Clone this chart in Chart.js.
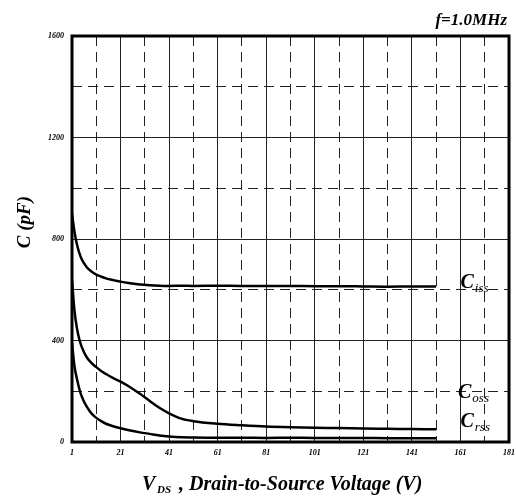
<!DOCTYPE html>
<html>
<head>
<meta charset="utf-8">
<script src="https://cdn.jsdelivr.net/npm/chart.js@4.4.1/dist/chart.umd.min.js"></script>
<style>
  body { margin: 0; background: #fff; }
  #wrap { width: 516px; height: 500px; position: relative; }
</style>
</head>
<body>
<div id="wrap"><canvas id="capChart"></canvas></div>
<script>
// Capacitance vs drain-source voltage
const vds  = [1, 2, 3, 4, 5, 7, 9, 11, 13, 15, 18, 21, 25, 29, 33, 37, 41, 46, 51, 61, 71, 81, 91, 101, 111, 121, 131, 141, 151];
const ciss = [900, 830, 780, 745, 720, 690, 672, 660, 652, 645, 638, 632, 626, 621, 618, 616, 615, 616, 615, 616, 615, 615, 615, 614, 614, 613, 612, 613, 613];
const coss = [640, 520, 450, 405, 375, 335, 312, 295, 280, 268, 252, 238, 216, 190, 162, 135, 113, 92, 82, 72, 66, 61, 58, 56, 55, 53, 52, 51, 50];
const crss = [390, 300, 250, 210, 180, 140, 113, 95, 82, 72, 62, 54, 45, 38, 32, 26, 22, 19, 18, 17, 17, 16, 17, 16, 16, 16, 15, 15, 15];

const xTicks = [1, 11, 21, 31, 41, 51, 61, 71, 81, 91, 101, 111, 121, 131, 141, 151, 161, 171, 181];
const yTicks = [0, 200, 400, 600, 800, 1000, 1200, 1400, 1600];

// label text and where it sits (data coords)
const seriesLabels = [
    { sub: 'iss', x: 161, y: 607 },
    { sub: 'oss', x: 160, y: 173 },
    { sub: 'rss', x: 161, y: 59 }
];

const serif = '"Liberation Serif", "Times New Roman", serif';

function pts(ys) {
    return vds.map((v, i) => ({ x: v, y: ys[i] }));
}

function curve(ys) {
    return {
        data: pts(ys),
        borderColor: '#000',
        borderWidth: 2.5,
        pointRadius: 0,
        fill: false,
        cubicInterpolationMode: 'monotone'
    };
}

// frame, title texts and curve labels
const decorations = {
    id: 'decorations',
    afterDraw(chart) {
        const { ctx, chartArea: a, scales } = chart;
        ctx.save();
        ctx.strokeStyle = '#000';
        ctx.lineWidth = 3;
        ctx.strokeRect(a.left, a.top, a.right - a.left, a.bottom - a.top);

        ctx.fillStyle = '#000';
        ctx.textBaseline = 'alphabetic';

        // frequency note
        ctx.font = 'italic bold 17px ' + serif;
        ctx.textAlign = 'right';
        ctx.fillText('f=1.0MHz', 507, 25);

        // y title
        ctx.save();
        ctx.translate(30, 222);
        ctx.rotate(-Math.PI / 2);
        ctx.textAlign = 'center';
        ctx.font = 'italic bold 19px ' + serif;
        ctx.fillText('C (pF)', 0, 0);
        ctx.restore();

        // x title with subscript
        ctx.textAlign = 'left';
        ctx.font = 'italic bold 20px ' + serif;
        ctx.fillText('V', 142, 490);
        ctx.font = 'italic bold 11px ' + serif;
        ctx.fillText('DS', 157, 493);
        ctx.font = 'italic bold 20px ' + serif;
        ctx.fillText(', Drain-to-Source Voltage (V)', 179, 490);

        // curve labels
        seriesLabels.forEach(l => {
            const px = scales.x.getPixelForValue(l.x);
            const py = scales.y.getPixelForValue(l.y);
            ctx.font = 'italic bold 20px ' + serif;
            ctx.fillText('C', px, py);
            const w = ctx.measureText('C').width;
            ctx.font = 'italic 13px ' + serif;
            ctx.fillText(l.sub, px + w + 1, py + 4);
        });
        ctx.restore();
    }
};

new Chart(document.getElementById('capChart'), {
    type: 'line',
    data: {
        datasets: [curve(ciss), curve(coss), curve(crss)]
    },
    options: {
        responsive: true,
        maintainAspectRatio: false,
        animation: false,
        layout: { padding: { top: 36, right: 7, left: 0, bottom: 0 } },
        plugins: {
            legend: { display: false },
            tooltip: { enabled: false }
        },
        scales: {
            x: {
                type: 'linear',
                min: 1,
                max: 181,
                afterBuildTicks: s => { s.ticks = xTicks.map(v => ({ value: v })); },
                afterFit: s => { s.height = 58; s.paddingLeft = 0; s.paddingRight = 0; },
                ticks: {
                    autoSkip: false,
                    maxRotation: 0,
                    padding: 6,
                    color: '#000',
                    font: { family: serif, size: 8, style: 'italic', weight: 'bold' },
                    callback: v => ((v - 1) % 20 === 0 ? String(v) : '')
                },
                grid: {
                    drawTicks: false,
                    color: '#222',
                    lineWidth: 1
                },
                border: {
                    display: false,
                    dash: c => (c.tick && (c.tick.value - 1) % 20 !== 0 ? [10, 6] : [])
                }
            },
            y: {
                min: 0,
                max: 1600,
                afterBuildTicks: s => { s.ticks = yTicks.map(v => ({ value: v })); },
                afterFit: s => { s.width = 72; s.paddingTop = 0; s.paddingBottom = 0; },
                ticks: {
                    autoSkip: false,
                    padding: 8,
                    color: '#000',
                    font: { family: serif, size: 8, style: 'italic', weight: 'bold' },
                    callback: v => (v % 400 === 0 ? String(v) : '')
                },
                grid: {
                    drawTicks: false,
                    color: '#222',
                    lineWidth: 1
                },
                border: {
                    display: false,
                    dash: c => (c.tick && c.tick.value % 400 !== 0 ? [10, 6] : [])
                }
            }
        }
    },
    plugins: [decorations]
});
</script>
</body>
</html>
